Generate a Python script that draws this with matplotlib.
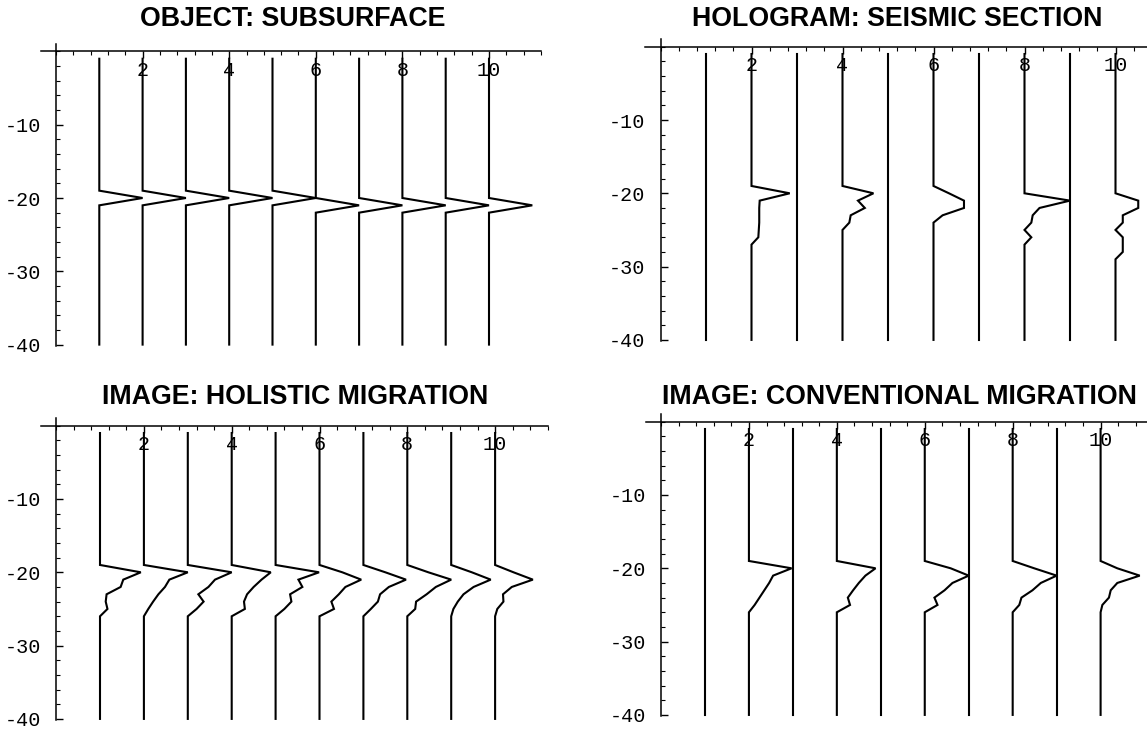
import numpy as np
import matplotlib
import matplotlib.pyplot as plt
from matplotlib.ticker import FixedLocator, FixedFormatter, MultipleLocator

matplotlib.use('Agg')
plt.rcParams['axes.unicode_minus'] = False

# depth samples of every trace, and where the listed pulse values start
DEPTHS = np.arange(-1, -41, -1)
PULSE_START = -19
TRACE_X = list(range(1, 11))

X_TICKS = [2, 4, 6, 8, 10]
X_TICK_LABELS = ['2', '4', '6', '8', '10']
Y_TICKS = [-10, -20, -30, -40]
Y_TICK_LABELS = ['-10', '-20', '-30', '-40']

TITLES = ['OBJECT: SUBSURFACE', 'HOLOGRAM: SEISMIC SECTION',
          'IMAGE: HOLISTIC MIGRATION', 'IMAGE: CONVENTIONAL MIGRATION']

# amplitudes from depth -19 downwards, one list per trace 1..10
object_pulses = [
    [0, 1.0, 0], [0, 1.0, 0], [0, 1.0, 0], [0, 1.0, 0], [0, 1.0, 0],
    [0, 0, 1.0, 0], [0, 0, 1.0, 0], [0, 0, 1.0, 0], [0, 0, 1.0, 0], [0, 0, 1.0, 0],
]
hologram_pulses = [
    [0],
    [0, 0.84, 0.18, 0.17, 0.17, 0.17, 0.16, 0.15, 0],
    [0],
    [0, 0.68, 0.34, 0.49, 0.18, 0.15, 0],
    [0],
    [0, 0.34, 0.67, 0.67, 0.20, 0],
    [0],
    [0, 0, 1.0, 0.33, 0.18, 0.15, 0, 0.15, 0],
    [0],
    [0, 0, 0.50, 0.50, 0.16, 0.16, 0, 0.16, 0.16, 0.16, 0],
]
holistic_pulses = [
    [0, 0.93, 0.53, 0.47, 0.15, 0.13, 0.17, 0],
    [0, 1.0, 0.58, 0.48, 0.33, 0.21, 0.10, 0],
    [0, 1.0, 0.62, 0.47, 0.24, 0.36, 0.20, 0],
    [0, 0.89, 0.68, 0.50, 0.35, 0.28, 0.30, 0],
    [0, 0.99, 0.52, 0.61, 0.33, 0.36, 0.20, 0],
    [0, 0.52, 0.95, 0.59, 0.44, 0.27, 0.33, 0],
    [0, 0.50, 0.97, 0.58, 0.38, 0.33, 0.17, 0],
    [0, 0.48, 1.0, 0.65, 0.44, 0.20, 0.18, 0],
    [0, 0.47, 0.90, 0.51, 0.28, 0.15, 0.05, 0],
    [0, 0.42, 0.86, 0.38, 0.18, 0.19, 0.05, 0],
]
conventional_pulses = [
    [0],
    [0, 0.97, 0.55, 0.46, 0.35, 0.24, 0.13, 0],
    [0],
    [0, 0.88, 0.65, 0.50, 0.37, 0.25, 0.30, 0],
    [0],
    [0, 0.59, 1.0, 0.63, 0.45, 0.22, 0.29, 0],
    [0],
    [0, 0.49, 1.0, 0.64, 0.45, 0.20, 0.15, 0],
    [0],
    [0, 0.38, 0.89, 0.38, 0.23, 0.19, 0.04, 0],
]

W, H = 1147, 731
XLIM = (-0.35, 11.2)
YLIM = (-40.2, 1.0)
# pixel origin and scale of each panel: x0, px per x unit, y0, px per y unit
PANELS = [
    (56.0, 43.3, 51.4, 7.33, (293, 19)),
    (660.5, 45.5, 46.7, 7.33, (897, 19)),
    (56.1, 43.9, 425.7, 7.33, (295, 397)),
    (661.0, 43.96, 421.7, 7.33, (899, 397)),
]


def trace_values(pulse):
    amps = np.zeros(len(DEPTHS))
    start = int(-PULSE_START - 1)
    amps[start:start + len(pulse)] = pulse
    return amps


def draw_panel(fig, panel, pulses, title):
    x0, ux, y0, uy, title_pos = panel
    left = x0 + XLIM[0] * ux
    right = x0 + XLIM[1] * ux
    top = y0 - YLIM[1] * uy
    bottom = y0 - YLIM[0] * uy
    ax = fig.add_axes([left / W, 1 - bottom / H, (right - left) / W, (bottom - top) / H])
    ax.set_xlim(*XLIM)
    ax.set_ylim(*YLIM)
    ax.patch.set_visible(False)

    for x, pulse in zip(TRACE_X, pulses):
        ax.plot(x + trace_values(pulse), DEPTHS, color='black', lw=1.5,
                solid_joinstyle='miter', clip_on=False, zorder=3)

    ax.spines['left'].set_position(('data', 0))
    ax.spines['bottom'].set_position(('data', 0))
    ax.spines['top'].set_visible(False)
    ax.spines['right'].set_visible(False)
    for s in ('left', 'bottom'):
        ax.spines[s].set_linewidth(1.1)

    ax.xaxis.set_major_locator(FixedLocator(X_TICKS))
    ax.xaxis.set_major_formatter(FixedFormatter(X_TICK_LABELS))
    ax.xaxis.set_minor_locator(MultipleLocator(0.4))
    ax.yaxis.set_major_locator(FixedLocator(Y_TICKS))
    ax.yaxis.set_major_formatter(FixedFormatter(Y_TICK_LABELS))
    ax.yaxis.set_minor_locator(MultipleLocator(2))

    ax.tick_params(axis='x', which='major', direction='out', length=5, width=1, pad=2)
    ax.tick_params(axis='x', which='minor', direction='out', length=3, width=0.8)
    ax.tick_params(axis='y', which='major', direction='in', length=5, width=1, pad=11)
    ax.tick_params(axis='y', which='minor', direction='in', length=3, width=0.8)
    for lab in ax.get_xticklabels() + ax.get_yticklabels():
        lab.set_fontfamily('Liberation Mono')
        lab.set_fontsize(14.5)

    fig.text(title_pos[0] / W, 1 - title_pos[1] / H, title, ha='center', va='center',
             fontsize=19.3, fontweight='bold', family='Liberation Sans')
    return ax


fig = plt.figure(figsize=(W / 100, H / 100), dpi=100)
all_pulses = [object_pulses, hologram_pulses, holistic_pulses, conventional_pulses]
for panel, pulses, title in zip(PANELS, all_pulses, TITLES):
    draw_panel(fig, panel, pulses, title)

fig.savefig('out.png', dpi=100)
